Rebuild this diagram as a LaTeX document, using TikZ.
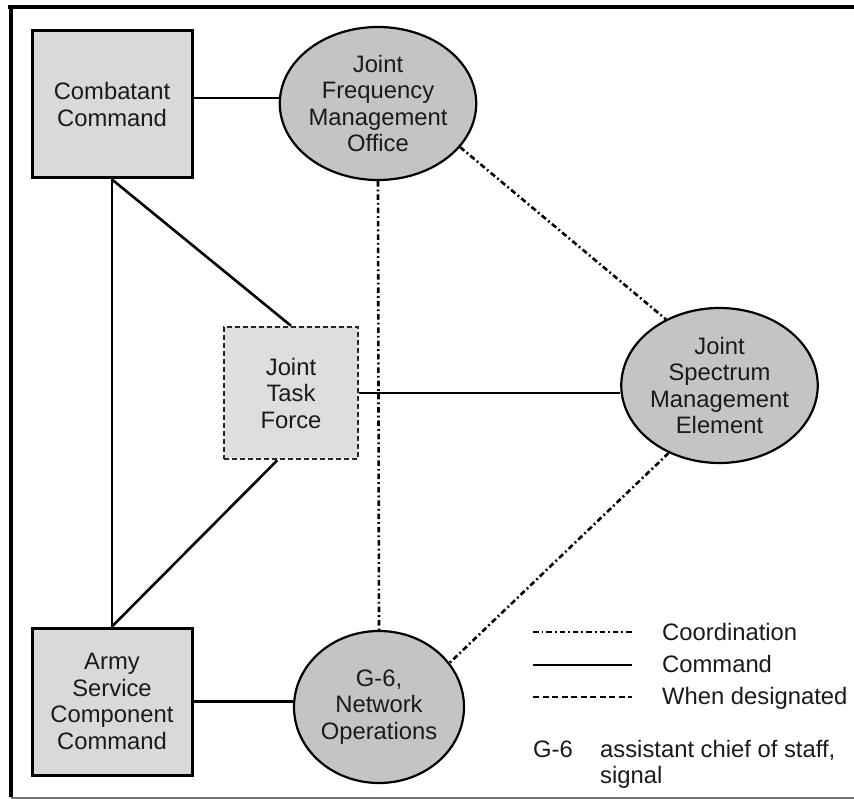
\documentclass[tikz,border=0pt]{standalone}
\usepackage{fontspec}
\setmainfont{Liberation Sans}
\usetikzlibrary{shapes.geometric,calc}
\definecolor{boxgray}{HTML}{D9D9DA}
\definecolor{jtfgray}{HTML}{DEDEDE}
\definecolor{ellgray}{HTML}{C4C4C4}
\definecolor{txt}{HTML}{1A1A1A}
\tikzset{
  lbl/.style={font=\fontsize{23.8}{26.5}\selectfont, text=txt, align=center},
  boxnode/.style={lbl, draw=black, line width=3pt, fill=boxgray, minimum width=160pt, minimum height=147pt, inner sep=0pt},
  jtfnode/.style={lbl, draw=black!85, line width=2.4pt, dash pattern=on 5pt off 3pt, fill=jtfgray, minimum width=134pt, minimum height=132pt, inner sep=0pt},
  ellnode/.style={lbl, ellipse, draw=black, line width=2.2pt, fill=ellgray, inner sep=0pt},
  cmdline/.style={draw=black, line width=2.6pt},
  coordline/.style={draw=black, line width=2.6pt, dash pattern=on 5.5pt off 3pt on 1.8pt off 3pt},
  desigline/.style={draw=black, line width=2pt, dash pattern=on 6pt off 3.5pt},
  legtext/.style={font=\fontsize{23.8}{26.5}\selectfont, text=txt, anchor=base west, inner sep=0pt},
}
\begin{document}
\begin{tikzpicture}[x=1pt, y=-1pt]
\useasboundingbox (0,0) rectangle (854,799);
\fill[white] (0,0) rectangle (854,799);
% frame
\draw[black, line width=3.5pt] (8,7) -- (854,7);
\draw[black, line width=3.5pt] (11,7) -- (11,797);
\draw[black!55, line width=2pt] (11,797.5) -- (854,797.5);

% nodes
\node[boxnode] (cc) at (112,104.5) {Combatant\\Command};
\node[boxnode] (ascc) at (112,701.5) {Army\\Service\\Component\\Command};
\node[jtfnode] (jtf) at (291,393) {Joint\\Task\\Force};
\node[ellnode, minimum width=170pt, minimum height=153pt] (jfmo) at (378,103.5) {Joint\\Frequency\\Management\\Office};
\node[ellnode, minimum width=171pt, minimum height=155pt] (jsme) at (719.5,385.5) {Joint\\Spectrum\\Management\\Element};
\node[ellnode, minimum width=170pt, minimum height=152pt] (g6) at (379,707) {G-6,\\Network\\Operations};

% command connectors
\coordinate (ccj) at ($(cc.east)+(0,-6.5)$);
\draw[cmdline] (ccj) -- (ccj -| jfmo.west);
\draw[cmdline] (cc.south) -- (ascc.north);
\draw[cmdline] (cc.south) -- (jtf.north);
\draw[cmdline] (ascc.north) -- ($(jtf.south west)!0.4!(jtf.south east)$);
\draw[cmdline] (jtf.east) -- (jtf.east -| jsme.west);
\draw[cmdline] (ascc.east) -- (ascc.east -| g6.west);

% coordination connectors
\draw[coordline] (jfmo.south) -- (g6.north);
\draw[coordline] (jfmo.-28) -- (jsme.129);
\draw[coordline] (jsme.233) -- (g6.32);

% legend
\coordinate (l1a) at (533,632); \coordinate (l1b) at (632,632);
\coordinate (l2a) at (533,665); \coordinate (l2b) at (632,665);
\coordinate (l3a) at (533,697); \coordinate (l3b) at (632,697);
\draw[coordline, line width=2pt] (l1a) -- (l1b);
\draw[cmdline, line width=2.6pt] (l2a) -- (l2b);
\draw[desigline] (l3a) -- (l3b);
\node[legtext] (t1) at (662,640) {Coordination};
\node[legtext] (t2) at (662,672) {Command};
\node[legtext] (t3) at (662,704) {When designated};
\node[legtext] (t4) at (533,757) {G-6};
\node[legtext] (t5) at (600,757) {assistant chief of staff,};
\node[legtext] (t6) at (600,783) {signal};
\end{tikzpicture}
\end{document}
